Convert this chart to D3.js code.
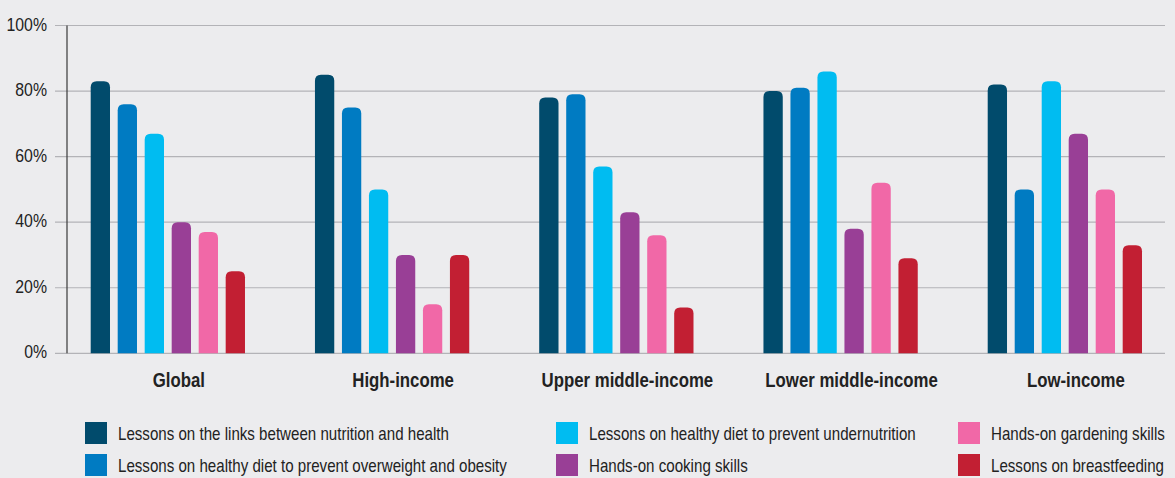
<!DOCTYPE html>
<html>
  <head>
    <script src="https://d3js.org/d3.v7.min.js"></script>
    <style>
      body { margin: 0; background-color: #ececee; }
      svg { display: block; }
      text { font-family: "Liberation Sans", Arial, sans-serif; fill: #222; }
    </style>
  </head>
  <body>
    <svg id="canvas" width="1175" height="478"></svg>
  </body>

  <script>
    // categories and series
    const groups = ['Global', 'High-income', 'Upper middle-income', 'Lower middle-income', 'Low-income']
    const seriesNames = [
      'Lessons on the links between nutrition and health',
      'Lessons on healthy diet to prevent overweight and obesity',
      'Lessons on healthy diet to prevent undernutrition',
      'Hands-on cooking skills',
      'Hands-on gardening skills',
      'Lessons on breastfeeding'
    ]
    const seriesColors = ['#014b6c', '#007bc2', '#00bcf1', '#993f96', '#f168a7', '#c21f33']

    // percent values, one array per series, in group order
    const linksHealth = [83, 85, 78, 80, 82]
    const overweight = [76, 75, 79, 81, 50]
    const undernutrition = [67, 50, 57, 86, 83]
    const cooking = [40, 30, 43, 38, 67]
    const gardening = [37, 15, 36, 52, 50]
    const breastfeeding = [25, 30, 14, 29, 33]
    const seriesValues = [linksHealth, overweight, undernutrition, cooking, gardening, breastfeeding]

    const yTicks = [0, 20, 40, 60, 80, 100]

    const svg = d3.select('#canvas')

    const y = d3.scaleLinear().domain([0, 100]).range([353.3, 25.5])
    const x0 = d3.scaleBand().domain(groups).range([90.7, 1142]).paddingInner(0.312).paddingOuter(0)
    const x1 = d3.scaleBand().domain(d3.range(seriesNames.length)).range([0, x0.bandwidth()]).paddingInner(0.285)

    // no condensed face installed, so squeeze text horizontally
    const squeeze = (x, y, k) => `translate(${x},${y}) scale(${k},1)`

    // gridlines
    svg.append('g').selectAll('line').data(yTicks).enter()
      .append('line')
        .attr('x1', 55).attr('x2', 1165)
        .attr('y1', d => y(d)).attr('y2', d => y(d))
        .attr('stroke', '#b3b3b7').attr('stroke-width', 1.2)

    // tick labels
    svg.append('g').selectAll('text').data(yTicks).enter()
      .append('text')
        .attr('transform', d => squeeze(47, y(d) + 5, 0.88))
        .attr('text-anchor', 'end')
        .attr('font-size', 18)
        .text(d => d + '%')

    // y axis line
    svg.append('line')
      .attr('x1', 67).attr('x2', 67)
      .attr('y1', y(100)).attr('y2', y(0))
      .attr('stroke', '#3a3a3a').attr('stroke-width', 1.2)

    // bar with rounded top
    const barPath = (x, w, top, bottom) => {
      const r = Math.min(6, (bottom - top), w / 2)
      return `M${x},${bottom}V${top + r}Q${x},${top} ${x + r},${top}H${x + w - r}Q${x + w},${top} ${x + w},${top + r}V${bottom}Z`
    }

    const barData = []
    groups.forEach((g, gi) => {
      seriesValues.forEach((vals, si) => barData.push({ group: g, s: si, v: vals[gi] }))
    })

    svg.append('g').selectAll('path').data(barData).enter()
      .append('path')
        .attr('d', d => barPath(x0(d.group) + x1(d.s), x1.bandwidth(), y(d.v), y(0)))
        .attr('fill', d => seriesColors[d.s])

    // group labels
    svg.append('g').selectAll('text').data(groups).enter()
      .append('text')
        .attr('transform', d => squeeze(x0(d) + x0.bandwidth() / 2 + 11, 387, 0.84))
        .attr('text-anchor', 'middle')
        .attr('font-size', 20)
        .attr('font-weight', 'bold')
        .text(d => d)

    // legend, three columns of two rows
    const legendCols = [85, 556, 958]
    const legendRows = [422, 454]
    const legend = svg.append('g').selectAll('g').data(seriesNames).enter()
      .append('g')
        .attr('transform', (d, i) => `translate(${legendCols[Math.floor(i / 2)]}, ${legendRows[i % 2]})`)
    legend.append('rect')
      .attr('width', 22).attr('height', 22)
      .attr('fill', (d, i) => seriesColors[i])
    legend.append('text')
      .attr('transform', squeeze(33, 18, 0.84))
      .attr('font-size', 18)
      .text(d => d)
  </script>
</html>
